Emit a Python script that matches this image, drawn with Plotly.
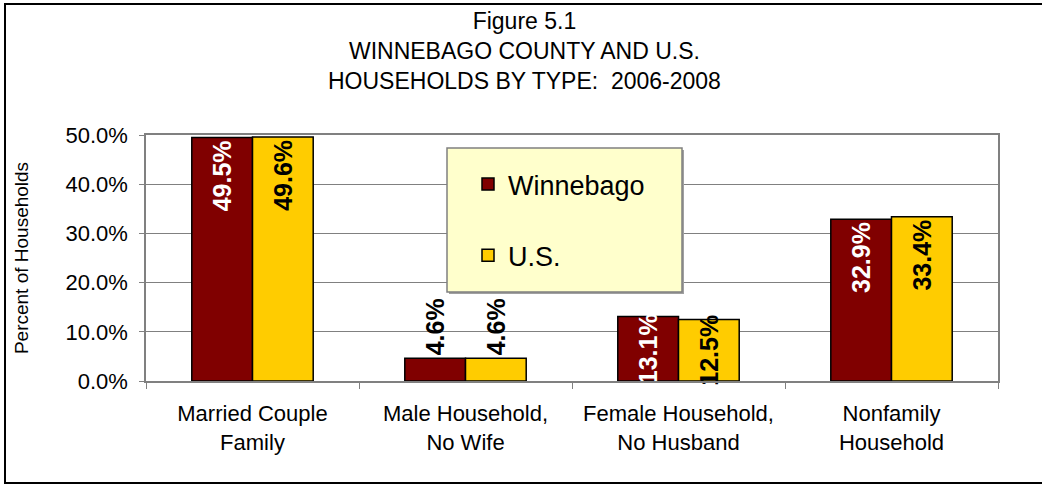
import plotly.graph_objects as go

categories = ["Married Couple<br>Family", "Male Household,<br>No Wife",
              "Female Household,<br>No Husband", "Nonfamily<br>Household"]
winnebago = [49.5, 4.6, 13.1, 32.9]
us = [49.6, 4.6, 12.5, 33.4]
series_names = ["Winnebago", "U.S."]
series_colors = ["#800000", "#FFCC00"]
inside_text_colors = ["white", "black"]
# label placement per category: 'end' = inside top, 'out' = above bar, 'mid' = centred in bar
label_mode = ["end", "out", "mid", "end"]
title_lines = ["Figure 5.1", "WINNEBAGO COUNTY AND U.S.", "HOUSEHOLDS BY TYPE:\u00a0 2006-2008"]
y_title = "Percent of Households"

# plot area in pixels
W, H = 1042, 485
L, R, T, B = 146, 44, 135, 104
pw, ph = W - L - R, H - T - B

def px_x(x):
    return (x - L) / pw

def px_y(y):
    return (H - B - y) / ph

FONT = "Arial, Liberation Sans, sans-serif"

fig = go.Figure()
for name, vals, col, tcol in zip(series_names, [winnebago, us], series_colors, inside_text_colors):
    idx_a = [i for i, m in enumerate(label_mode) if m != "mid"]
    idx_b = [i for i, m in enumerate(label_mode) if m == "mid"]
    for part, idx in (("a", idx_a), ("b", idx_b)):
        fig.add_trace(go.Bar(
            x=[categories[i] for i in idx],
            y=[vals[i] for i in idx],
            name=name,
            legendgroup=name,
            showlegend=(part == "a"),
            offsetgroup=name,
            marker=dict(color=col, line=dict(color="black", width=1.5)),
            texttemplate="<b>%{y:.1f}%</b>",
            textposition=["outside" if label_mode[i] == "out" else "inside" for i in idx],
            insidetextanchor="end" if part == "a" else "middle",
            textangle=-90,
            constraintext="none",
            cliponaxis=False,
            insidetextfont=dict(color=tcol, size=25, family=FONT),
            outsidetextfont=dict(color="black", size=25, family=FONT),
            hoverinfo="skip",
        ))

fig.update_layout(
    width=W, height=H,
    margin=dict(l=L, r=R, t=T, b=B),
    paper_bgcolor="white", plot_bgcolor="white",
    barmode="group", bargap=0.43, bargroupgap=0,
    font=dict(family=FONT, color="black"),
    legend=dict(x=px_x(468), y=px_y(160), xanchor="left", yanchor="top",
                bgcolor="rgba(0,0,0,0)", borderwidth=0,
                font=dict(size=27, color="black", family=FONT),
                traceorder="grouped", tracegroupgap=33),
    annotations=[
        dict(text="<br>".join(title_lines), xref="paper", yref="paper",
             x=px_x(524), y=px_y(6), xanchor="center", yanchor="top",
             showarrow=False, align="center",
             font=dict(size=23, color="black", family=FONT)),
    ],
    shapes=[
        dict(type="rect", xref="paper", yref="paper",
             x0=px_x(5), x1=px_x(1050), y0=px_y(483), y1=px_y(4),
             line=dict(color="black", width=2), fillcolor="rgba(0,0,0,0)", layer="below"),
        dict(type="rect", xref="paper", yref="paper",
             x0=px_x(449), x1=px_x(684), y0=px_y(294), y1=px_y(150),
             line=dict(width=0), fillcolor="#A0A0A0", layer="above"),
        dict(type="rect", xref="paper", yref="paper",
             x0=px_x(447), x1=px_x(682), y0=px_y(292), y1=px_y(148),
             line=dict(color="#808080", width=1.5), fillcolor="#FFFFCC", layer="above"),
    ],
)
fig.update_xaxes(
    categoryorder="array", categoryarray=categories,
    tickson="boundaries", ticks="outside", ticklen=6, tickcolor="#808080",
    ticklabelstandoff=12,
    showline=True, linecolor="#808080", linewidth=1.5, mirror=True,
    showgrid=False, tickfont=dict(size=22, color="black", family=FONT),
)
fig.update_yaxes(
    range=[0, 50], dtick=10, tickformat=".1f", ticksuffix="%",
    showgrid=True, gridcolor="#808080", gridwidth=1, zeroline=False,
    showline=True, linecolor="#808080", linewidth=1.5, mirror=True,
    ticks="outside", ticklen=5, tickcolor="#808080", ticklabelstandoff=7,
    tickfont=dict(size=22, color="black", family=FONT),
    title=dict(text=y_title, font=dict(size=19, color="black", family=FONT), standoff=32),
)

fig.write_html("out.html", config={"displayModeBar": False},
               post_script="document.body.style.margin='0';")
